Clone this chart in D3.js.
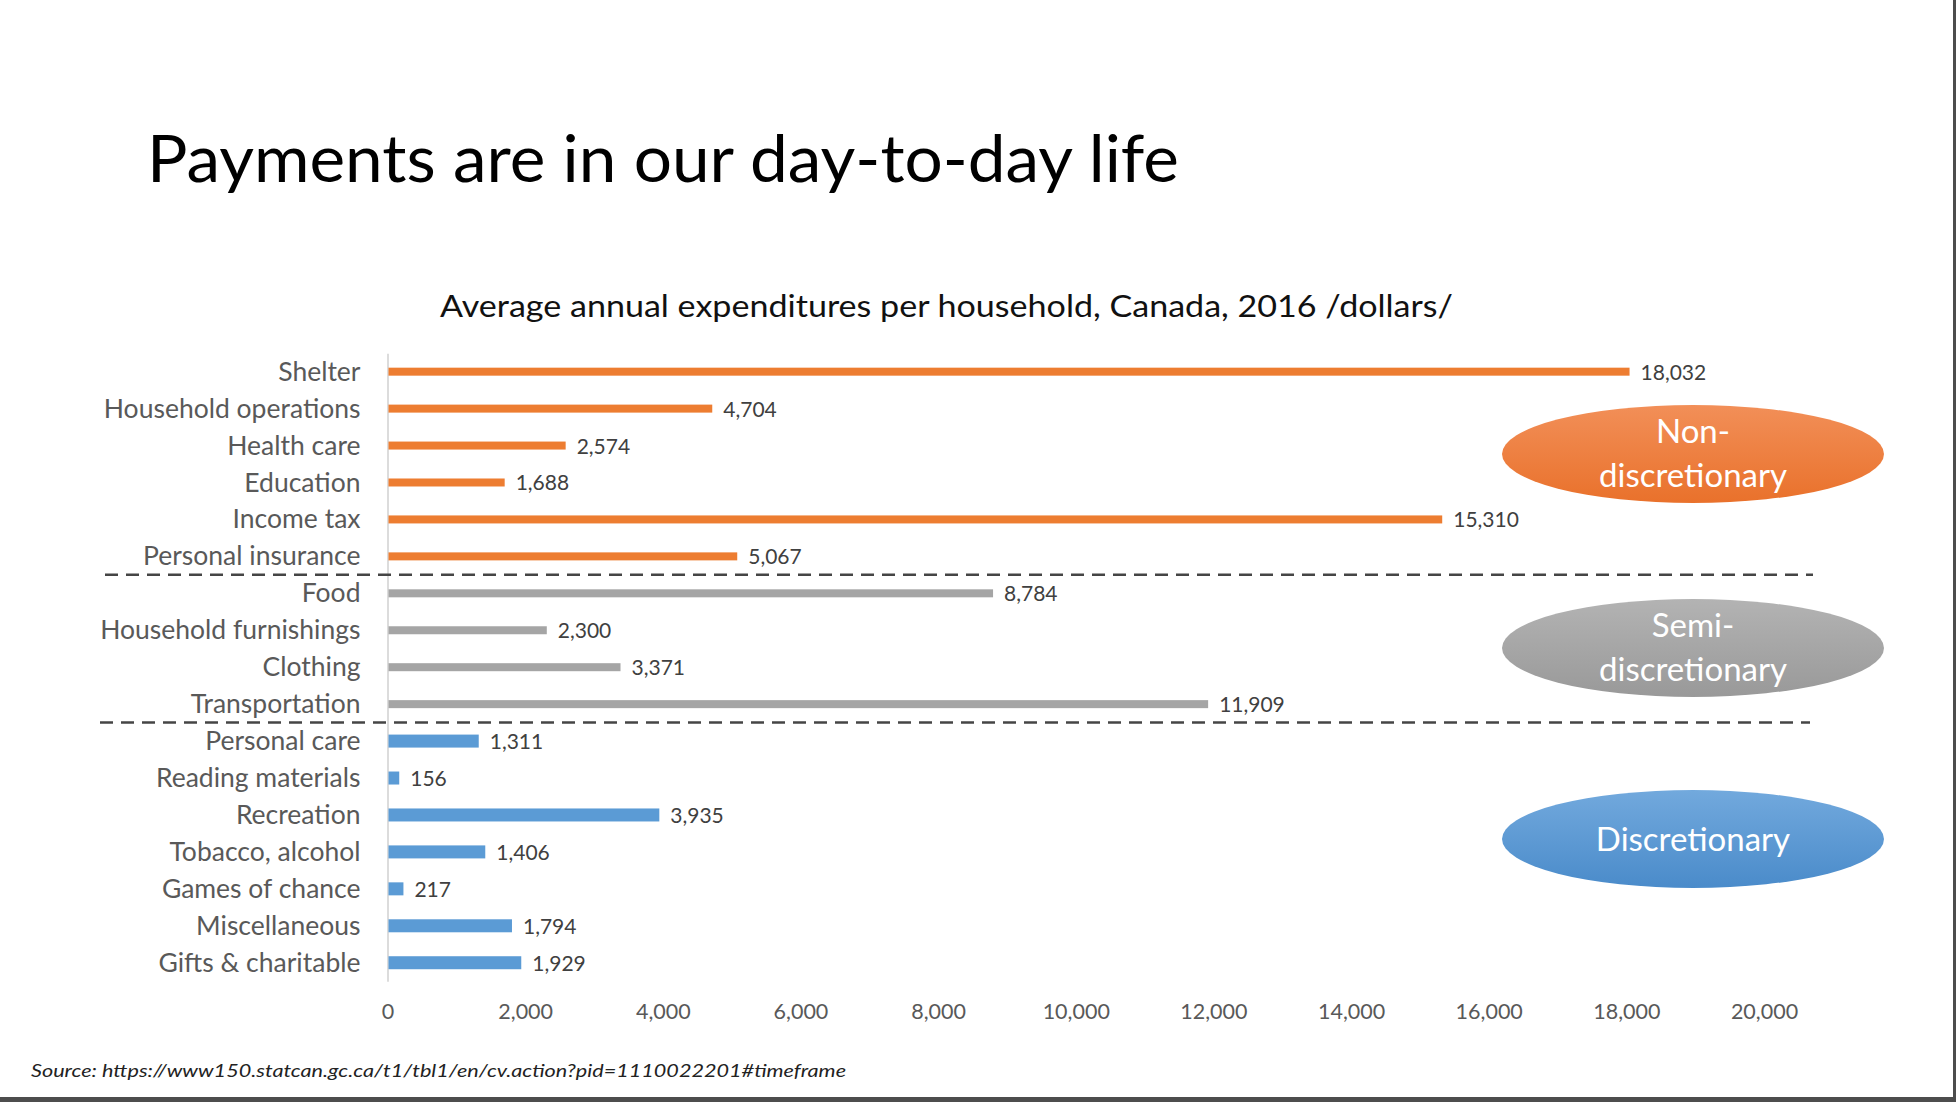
<!DOCTYPE html>
<html>
<head>
<meta charset="utf-8">
<script src="https://cdn.jsdelivr.net/npm/d3@7"></script>
<style>
  body { margin: 0; background: #fff; }
  svg { display: block; }
</style>
</head>
<body>
<script>
// data
const categories = ["Shelter", "Household operations", "Health care", "Education", "Income tax",
  "Personal insurance", "Food", "Household furnishings", "Clothing", "Transportation",
  "Personal care", "Reading materials", "Recreation", "Tobacco, alcohol", "Games of chance",
  "Miscellaneous", "Gifts & charitable"];
const values = [18032, 4704, 2574, 1688, 15310, 5067, 8784, 2300, 3371, 11909,
  1311, 156, 3935, 1406, 217, 1794, 1929];
const groups = ["non", "non", "non", "non", "non", "non", "semi", "semi", "semi", "semi",
  "disc", "disc", "disc", "disc", "disc", "disc", "disc"];
const groupKeys = ["non", "semi", "disc"];
const groupLabels = [["Non-", "discretionary"], ["Semi-", "discretionary"], ["Discretionary"]];
const tickValues = [0, 2000, 4000, 6000, 8000, 10000, 12000, 14000, 16000, 18000, 20000];

const width = 1956, height = 1102;
const font = "Lato, 'Open Sans', sans-serif";

const svg = d3.select("body").append("svg")
  .attr("width", width).attr("height", height);

// gradients for the ellipses
const defs = svg.append("defs");
const gradStops = {
  non: ["#F28F58", "#E9712B"],
  semi: ["#B3B3B3", "#999999"],
  disc: ["#72A9DD", "#4A8BCA"]
};
groupKeys.forEach(k => {
  const lg = defs.append("linearGradient").attr("id", "g-" + k)
    .attr("x1", 0).attr("y1", 0).attr("x2", 0).attr("y2", 1);
  lg.append("stop").attr("offset", "0%").attr("stop-color", gradStops[k][0]);
  lg.append("stop").attr("offset", "100%").attr("stop-color", gradStops[k][1]);
});

// slide frame edges
svg.append("rect").attr("x", 1953).attr("y", 0).attr("width", 3).attr("height", height).attr("fill", "#4d4d4d");
svg.append("rect").attr("x", 0).attr("y", 1097).attr("width", width).attr("height", 5).attr("fill", "#4d4d4d");

// title
svg.append("text")
  .attr("x", 147).attr("y", 182)
  .attr("font-family", font).attr("font-size", 66)
  .attr("textLength", 1032).attr("lengthAdjust", "spacingAndGlyphs")
  .attr("fill", "#000")
  .text("Payments are in our day-to-day life");

svg.append("text")
  .attr("x", 440).attr("y", 317)
  .attr("font-family", font).attr("font-size", 30)
  .attr("textLength", 1013).attr("lengthAdjust", "spacingAndGlyphs")
  .attr("fill", "#111")
  .text("Average annual expenditures per household, Canada, 2016 /dollars/");

// scales
const x = d3.scaleLinear().domain([0, 20000]).range([387.5, 1764]);
const y = d3.scaleBand().domain(categories).range([353.2, 981.2]);
const color = d3.scaleOrdinal().domain(groupKeys).range(["#ED7D31", "#A5A5A5", "#5B9BD5"]);
const barH = d3.scaleOrdinal().domain(groupKeys).range([8, 8, 13]);

const rows = categories.map((c, i) => ({ cat: c, value: values[i], group: groups[i] }));

// category axis
const yAxis = svg.append("g")
  .attr("transform", `translate(${x(0)},0)`)
  .call(d3.axisLeft(y).tickSize(0).tickSizeOuter(0).tickPadding(27));
yAxis.select(".domain").attr("stroke", "#d0d0d0").attr("stroke-width", 1.5);
yAxis.selectAll("text")
  .attr("font-family", font).attr("font-size", 26.5)
  .attr("fill", "#595959").attr("dy", "0.34em");

// x axis labels
const xAxis = svg.append("g")
  .attr("transform", "translate(0,1004)")
  .call(d3.axisBottom(x).tickValues(tickValues).tickSize(0).tickPadding(0)
    .tickFormat(d3.format(",")));
xAxis.select(".domain").remove();
xAxis.selectAll("text")
  .attr("font-family", font).attr("font-size", 21.5)
  .attr("fill", "#595959").attr("dy", "0.71em");

// bars
svg.append("g").selectAll("rect")
  .data(rows).join("rect")
  .attr("x", x(0) + 1)
  .attr("y", d => y(d.cat) + y.bandwidth() / 2 - barH(d.group) / 2)
  .attr("width", d => x(d.value) - x(0))
  .attr("height", d => barH(d.group))
  .attr("fill", d => color(d.group));

// value labels
svg.append("g").selectAll("text")
  .data(rows).join("text")
  .attr("x", d => x(d.value) + 12)
  .attr("y", d => y(d.cat) + y.bandwidth() / 2)
  .attr("dy", "0.38em")
  .attr("font-family", font).attr("font-size", 21)
  .attr("fill", "#404040")
  .text(d => d3.format(",")(d.value));

// group separators
const sepAfter = ["Personal insurance", "Transportation"];
const sepX = [[105, 1813], [100, 1810]];
sepAfter.forEach((c, i) => {
  const yy = y(c) + y.bandwidth();
  svg.append("line")
    .attr("x1", sepX[i][0]).attr("x2", sepX[i][1])
    .attr("y1", yy).attr("y2", yy)
    .attr("stroke", "#454545").attr("stroke-width", 2.5)
    .attr("stroke-dasharray", "13,8");
});

// group ellipses
const ellCy = { non: 454, semi: 648, disc: 839 };
groupKeys.forEach((k, i) => {
  const cy = ellCy[k];
  svg.append("ellipse")
    .attr("cx", 1693).attr("cy", cy).attr("rx", 191).attr("ry", 49)
    .attr("fill", `url(#g-${k})`);
  const lines = groupLabels[i];
  const t = svg.append("text")
    .attr("x", 1693).attr("text-anchor", "middle")
    .attr("font-family", font).attr("font-size", 33)
    .attr("fill", "#fff");
  lines.forEach((ln, j) => {
    const base = lines.length === 1 ? cy + 12 : cy - 11 + j * 44;
    t.append("tspan").attr("x", 1693).attr("y", base).text(ln);
  });
});

// source note
svg.append("text")
  .attr("x", 31).attr("y", 1077)
  .attr("font-family", font).attr("font-size", 18).attr("font-style", "italic")
  .attr("textLength", 815).attr("lengthAdjust", "spacingAndGlyphs")
  .attr("fill", "#222")
  .text("Source: https://www150.statcan.gc.ca/t1/tbl1/en/cv.action?pid=1110022201#timeframe");
</script>
</body>
</html>
